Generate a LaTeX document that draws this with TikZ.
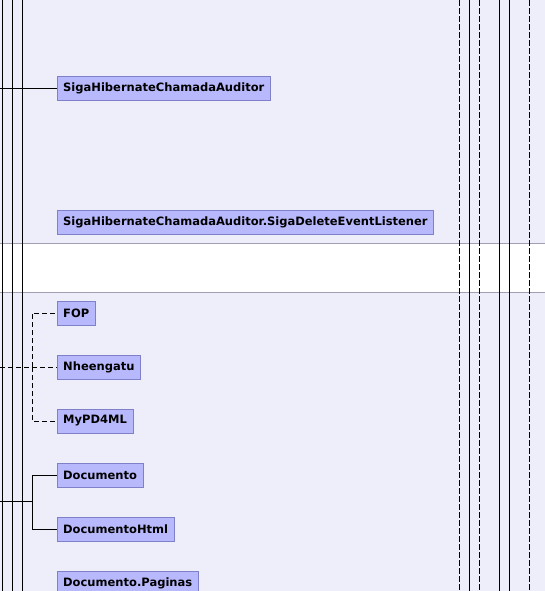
\documentclass[tikz,border=0pt]{standalone}
\usepackage{fontspec}
\setmainfont{DejaVu Sans}
\usepackage{tikz}
\usepackage{xcolor}
\usetikzlibrary{positioning,calc}

\definecolor{band}{RGB}{238,238,250}
\definecolor{boxfill}{RGB}{184,184,252}
\definecolor{boxline}{RGB}{128,128,200}
\definecolor{sep}{RGB}{160,160,176}

\begin{document}
\begin{tikzpicture}[x=1pt,y=-1pt,
cls/.style={draw=boxline,fill=boxfill,rectangle,anchor=west,inner xsep=6pt,inner ysep=0pt,minimum height=24pt,font=\fontsize{11.5}{13}\selectfont\bfseries},
lane/.style={line width=0.8pt},
dlane/.style={line width=0.8pt,dash pattern=on 6pt off 2pt},
dep/.style={line width=0.6pt,dash pattern=on 5pt off 3pt}]

\useasboundingbox (0,0) rectangle (545,591);
\clip (0,0) rectangle (545,591);
% bands
\fill[band] (0,0) rectangle (545,243);
\fill[band] (0,292) rectangle (545,591);
\draw[sep] (0,243) -- (545,243);
\draw[sep] (0,292) -- (545,292);

% lanes
\foreach \x in {2,12,22,469,499,509}
  \draw[lane] (\x,0) -- (\x,591);
\foreach \x in {459,479,529}
  \draw[dlane] (\x,0) -- (\x,591);

% classes
\node[cls] (aud) at (57,88) {SigaHibernateChamadaAuditor};
\node[cls] (del) at (57,222) {SigaHibernateChamadaAuditor.SigaDeleteEventListener};
\node[cls] (fop) at (57,313) {FOP};
\node[cls] (nhe) at (57,367) {Nheengatu};
\node[cls] (pdf) at (57,421) {MyPD4ML};
\node[cls] (doc) at (57,475) {Documento};
\node[cls] (html) at (57,529) {DocumentoHtml};
\node[cls] (pag) at (57,583) {Documento.Paginas};

% links
\coordinate (a0) at (0,88);
\draw[lane] (a0) -- (aud);

\coordinate (n0) at (0,367);
\coordinate (n1) at (32,367);
\draw[dep] (n0) -- (nhe);
\draw[dep] (n1) |- (fop);
\draw[dep] (n1) |- (pdf);

\coordinate (d0) at (0,501);
\coordinate (d1) at (32,501);
\draw[lane] (d0) -- (d1);
\draw[lane] (d1) |- (doc);
\draw[lane] (d1) |- (html);
\end{tikzpicture}
\end{document}
